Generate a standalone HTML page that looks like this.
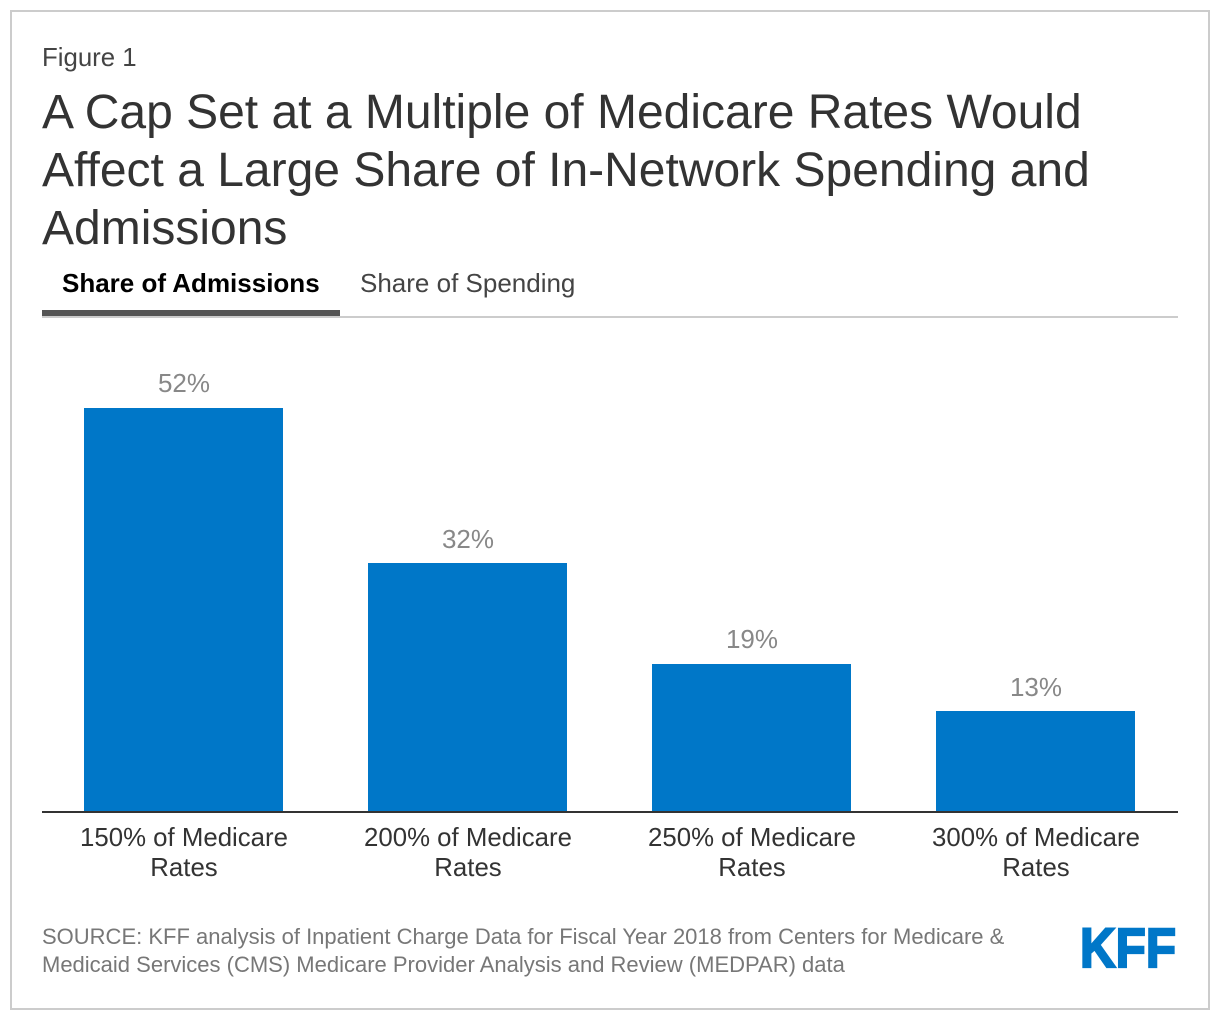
<!DOCTYPE html>
<html lang="en">
<head>
<meta charset="utf-8">
<title>KFF Figure 1</title>
<style>
html,body{margin:0;padding:0;background:#fff;}
body{width:1220px;height:1020px;overflow:hidden;position:relative;font-family:"Liberation Sans",Arial,sans-serif;}
svg{position:absolute;left:0;top:0;}
text{font-family:"Liberation Sans",Arial,sans-serif;}
</style>
</head>
<body>
<svg id="chart" width="1220" height="1020" viewBox="0 0 1220 1020" xmlns="http://www.w3.org/2000/svg">
  <rect x="11" y="11" width="1198" height="998" fill="#fff" stroke="#cccccc" stroke-width="2"/>
  <text x="42" y="66" font-size="25.8" fill="#444444">Figure 1</text>
  <g fill="#333333" font-size="48">
    <text x="42" y="128">A Cap Set at a Multiple of Medicare Rates Would</text>
    <text x="42" y="186">Affect a Large Share of In-Network Spending and</text>
    <text x="42" y="244">Admissions</text>
  </g>
  <line x1="42" y1="317" x2="1178" y2="317" stroke="#cccccc" stroke-width="2"/>
  <text x="62" y="292" font-size="26" font-weight="bold" fill="#000">Share of Admissions</text>
  <rect x="42" y="310" width="298" height="6" fill="#555555"/>
  <text x="360" y="292" font-size="26" fill="#444444">Share of Spending</text>
  <g id="plot"></g>
  <g fill="#777777" font-size="22">
    <text x="42" y="944">SOURCE: KFF analysis of Inpatient Charge Data for Fiscal Year 2018 from Centers for Medicare &amp;</text>
    <text x="42" y="972">Medicaid Services (CMS) Medicare Provider Analysis and Review (MEDPAR) data</text>
  </g>
  <text x="1080" y="967" font-size="56" font-weight="bold" fill="#0077c8" stroke="#0077c8" stroke-width="2.2" textLength="96" lengthAdjust="spacingAndGlyphs">KFF</text>
</svg>
<script>
const categories = ["150% of Medicare", "200% of Medicare", "250% of Medicare", "300% of Medicare"];
const categorySecondLine = ["Rates", "Rates", "Rates", "Rates"];
const shareOfAdmissions = [52.03, 31.97, 19, 12.87];

const plotLeft = 42, plotRight = 1178, baselineY = 811, pxPerUnit = 7.75, barWidth = 199, labelGap = 15.5;
const step = (plotRight - plotLeft) / categories.length;
const xCenter = i => plotLeft + step * (i + 0.5) - 0.5;
const yScale = v => baselineY - v * pxPerUnit;
const NS = "http://www.w3.org/2000/svg";
const plot = document.getElementById("plot");

function make(tag, attrs, text) {
  const el = document.createElementNS(NS, tag);
  for (const k in attrs) el.setAttribute(k, attrs[k]);
  if (text !== undefined) el.textContent = text;
  plot.appendChild(el);
  return el;
}

shareOfAdmissions.forEach((v, i) => {
  const cx = xCenter(i);
  const exactTop = yScale(v);
  const top = Math.round(exactTop);
  const bar = make("rect", {x: cx - barWidth / 2, y: top, width: barWidth, height: baselineY - top, fill: "#0077c8"});
  
  
  const val = make("text", {x: cx + 0.5, y: Math.round(exactTop - labelGap), "text-anchor": "middle", "font-size": 26, fill: "#888888"}, Math.round(v) + "%");
  
  
  const l1 = make("text", {x: cx + 0.5, y: 846, "text-anchor": "middle", "font-size": 25.8, fill: "#333333"}, categories[i]);
  
  
  const l2 = make("text", {x: cx + 0.5, y: 876, "text-anchor": "middle", "font-size": 25.8, fill: "#333333"}, categorySecondLine[i]);
  
  
});
const axis = make("line", {x1: plotLeft, y1: baselineY + 1, x2: plotRight, y2: baselineY + 1, stroke: "#333333", "stroke-width": 2});


</script>
</body>
</html>
